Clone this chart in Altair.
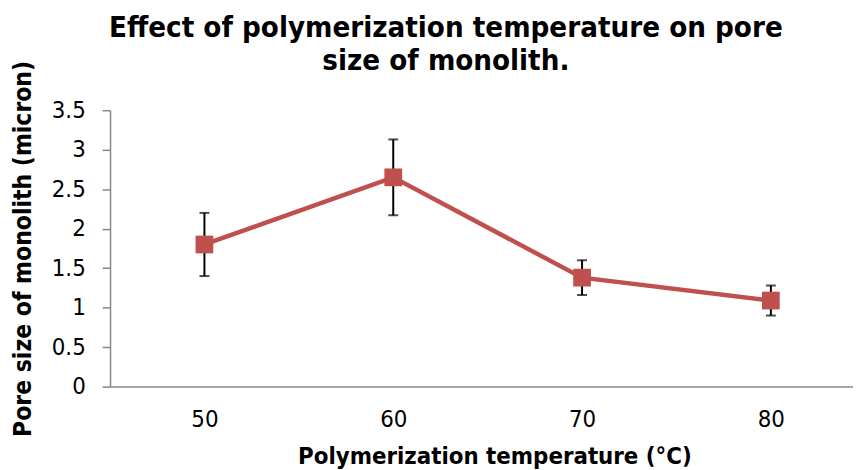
import altair as alt
import pandas as pd

temps = [50, 60, 70, 80]
pore = [1.8, 2.65, 1.38, 1.09]
err = [0.4, 0.48, 0.22, 0.19]
y_ticks = [0, 0.5, 1, 1.5, 2, 2.5, 3, 3.5]

df = pd.DataFrame({"temp": temps, "pore": pore, "err": err})
df["lo"] = df["pore"] - df["err"]
df["hi"] = df["pore"] + df["err"]

RED = "#C0504D"
GREY = "#878787"
FONT = "DejaVu Sans Condensed"
BOLD = "DejaVu Sans Condensed"

xscale = alt.Scale(domain=[45, 84.35], nice=False, zero=False)
yscale = alt.Scale(domain=[0, 3.5], nice=False)

xaxis = alt.Axis(values=temps, tickSize=0, labelPadding=21, grid=False,
                 labelOverlap=False,
                 title="Polymerization temperature (°C)", titlePadding=14,
                 titleX=388,
                 labelFont=FONT, labelFontSize=24, labelColor="black",
                 titleFont=BOLD, titleFontSize=24, titleFontWeight="bold",
                 titleColor="black", domainColor=GREY, domainWidth=1.5)
yaxis = alt.Axis(values=y_ticks, format="~g", tickSize=8, labelPadding=17,
                 labelOverlap=False, tickCount=8,
                 grid=False, title="Pore size of monolith (micron)",
                 titlePadding=16, labelFont=FONT, labelFontSize=24,
                 labelColor="black", titleFont=BOLD, titleFontSize=24.7,
                 titleFontWeight="bold", titleColor="black",
                 domainColor=GREY, tickColor=GREY, domainWidth=1.5,
                 tickWidth=1.5)

x = alt.X("temp:Q", scale=xscale, axis=xaxis)
y = alt.Y("pore:Q", scale=yscale, axis=yaxis)

base = alt.Chart(df)

line = base.mark_line(color=RED, strokeWidth=4.5).encode(x=x, y=y)
rules = base.mark_rule(color="black", strokeWidth=2).encode(
    x=x, y=alt.Y("lo:Q", scale=yscale, axis=yaxis), y2="hi:Q")
cap_lo = base.mark_tick(color="black", thickness=2, size=10, orient="horizontal").encode(
    x=x, y=alt.Y("lo:Q", scale=yscale, axis=yaxis))
cap_hi = base.mark_tick(color="black", thickness=2, size=10, orient="horizontal").encode(
    x=x, y=alt.Y("hi:Q", scale=yscale, axis=yaxis))
points = base.mark_point(shape="square", filled=True, color=RED, size=320, opacity=1).encode(
    x=x, y=y)

chart = alt.layer(line, rules, cap_lo, cap_hi, points).properties(
    width=750, height=279,
    title=alt.TitleParams(
        text=["Effect of polymerization temperature on pore", "size of monolith."],
        font=BOLD, fontSize=29.5, fontWeight="bold", color="black",
        anchor="middle", dx=-36, dy=26, offset=10, lineHeight=33),
    autosize=alt.AutoSizeParams(type="none"),
    padding={"left": 103, "top": 101, "right": 0, "bottom": 84},
).configure_view(stroke=None)

chart.save("out.html", embed_options={"renderer": "svg", "actions": False})
